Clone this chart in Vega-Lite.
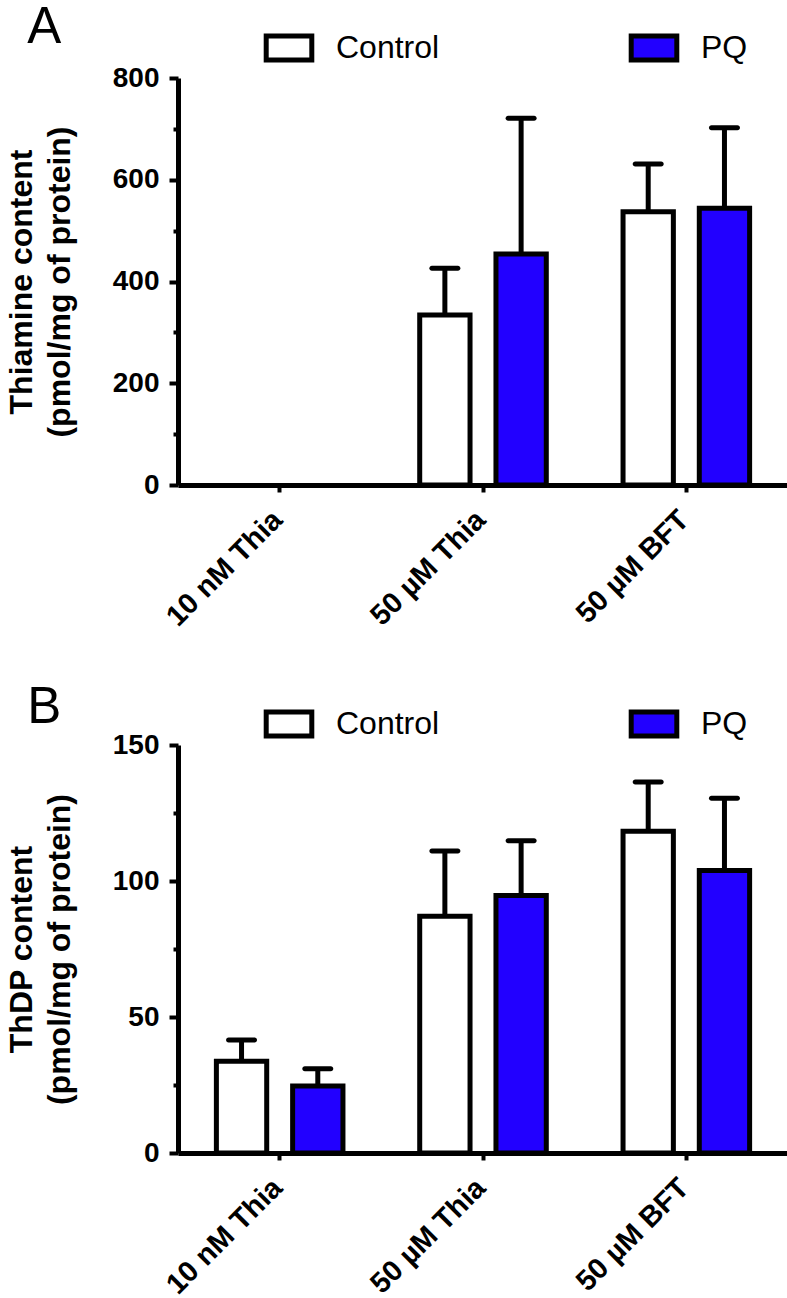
{
  "$schema": "https://vega.github.io/schema/vega-lite/v6.json",
  "padding": {"left": 5, "top": 2, "right": 0, "bottom": 0},
  "background": "white",
  "config": {
    "font": "Liberation Sans",
    "view": {"stroke": null},
    "concat": {"spacing": 50},
    "axis": {
      "domainColor": "black", "domainWidth": 5, "tickColor": "black", "tickWidth": 4,
      "labelColor": "black", "titleColor": "black", "labelFont": "Liberation Sans",
      "titleFont": "Liberation Sans", "labelFontWeight": "bold", "titleFontWeight": "bold", "grid": false
    },
    "legend": {
      "orient": "none", "legendX": 95, "direction": "horizontal",
      "symbolType": "M-1.9,-1H1.9V1H-1.9Z", "symbolSize": 576,
      "symbolStrokeColor": "black", "symbolStrokeWidth": 5, "symbolOpacity": 1,
      "labelFontSize": 32, "labelFont": "Liberation Sans", "labelColor": "black",
      "labelOffset": 31, "columnPadding": 181, "padding": 0
    },
    "title": {"anchor": "start", "frame": "bounds", "fontSize": 51, "fontWeight": "normal", "font": "Liberation Sans", "color": "black", "dx": 22}
  },
  "datasets": {
    "a": [
      {"treatment": "50 µM Thia", "group": "Control", "mean": 334, "upper": 426},
      {"treatment": "50 µM Thia", "group": "PQ", "mean": 454, "upper": 721},
      {"treatment": "50 µM BFT", "group": "Control", "mean": 537, "upper": 631},
      {"treatment": "50 µM BFT", "group": "PQ", "mean": 544, "upper": 702}
    ],
    "b": [
      {"treatment": "10 nM Thia", "group": "Control", "mean": 33.7, "upper": 41.5},
      {"treatment": "10 nM Thia", "group": "PQ", "mean": 24.6, "upper": 31},
      {"treatment": "50 µM Thia", "group": "Control", "mean": 87, "upper": 111},
      {"treatment": "50 µM Thia", "group": "PQ", "mean": 94.7, "upper": 114.8},
      {"treatment": "50 µM BFT", "group": "Control", "mean": 118.3, "upper": 136.4},
      {"treatment": "50 µM BFT", "group": "PQ", "mean": 103.9, "upper": 130.4}
    ]
  },
  "resolve": {"scale": {"fill": "independent", "y": "independent", "x": "independent"}, "legend": {"fill": "independent"}},
  "vconcat": [
    {
      "title": {"text": "A", "offset": -22},
      "width": 610, "height": 407,
      "data": {"name": "a"},
      "encoding": {
        "x": {"field": "treatment", "type": "nominal", "title": null,
          "scale": {"domain": ["10 nM Thia", "50 µM Thia", "50 µM BFT"], "paddingInner": 0.25, "paddingOuter": 0.125},
          "axis": {"labelAngle": -45, "labelFontSize": 29, "tickSize": 7, "labelPadding": 13, "labelOffset": -12}},
        "xOffset": {"field": "group", "type": "nominal",
          "scale": {"domain": ["Control", "PQ"], "paddingInner": 0.34, "paddingOuter": 0.17}}
      },
      "layer": [
        {"mark": {"type": "bar", "stroke": "black", "strokeWidth": 5},
         "encoding": {
           "y": {"field": "mean", "type": "quantitative", "scale": {"domain": [0, 800], "nice": false},
             "axis": {"title": ["Thiamine content", "(pmol/mg of protein)"], "titleFontSize": 32, "titleLineHeight": 38, "titlePadding": 36,
               "values": [0, 100, 200, 300, 400, 500, 600, 700, 800],
               "labelExpr": "datum.value % 200 === 0 ? datum.label : ''",
               "labelFontSize": 28, "labelPadding": 10,
               "tickSize": {"condition": {"test": "datum.value % 200 === 0", "value": 9}, "value": 5}}},
           "fill": {"field": "group", "type": "nominal", "scale": {"domain": ["Control", "PQ"], "range": ["white", "#2200ff"]}, "legend": {"title": null, "legendY": -46}}
         }},
        {"mark": {"type": "rule", "strokeWidth": 5, "color": "black"},
         "encoding": {"y": {"field": "mean", "type": "quantitative"}, "y2": {"field": "upper"}}},
        {"mark": {"type": "tick", "thickness": 5, "size": 31, "color": "black", "cornerRadius": 2.5, "opacity": 1},
         "encoding": {"y": {"field": "upper", "type": "quantitative"}}}
      ]
    },
    {
      "title": {"text": "B", "offset": -26},
      "width": 610, "height": 408,
      "data": {"name": "b"},
      "encoding": {
        "x": {"field": "treatment", "type": "nominal", "title": null,
          "scale": {"domain": ["10 nM Thia", "50 µM Thia", "50 µM BFT"], "paddingInner": 0.25, "paddingOuter": 0.125},
          "axis": {"labelAngle": -45, "labelFontSize": 29, "tickSize": 7, "labelPadding": 13, "labelOffset": -12}},
        "xOffset": {"field": "group", "type": "nominal",
          "scale": {"domain": ["Control", "PQ"], "paddingInner": 0.34, "paddingOuter": 0.17}}
      },
      "layer": [
        {"mark": {"type": "bar", "stroke": "black", "strokeWidth": 5},
         "encoding": {
           "y": {"field": "mean", "type": "quantitative", "scale": {"domain": [0, 150], "nice": false},
             "axis": {"title": ["ThDP content", "(pmol/mg of protein)"], "titleFontSize": 32, "titleLineHeight": 38, "titlePadding": 36,
               "values": [0, 25, 50, 75, 100, 125, 150],
               "labelExpr": "datum.value % 50 === 0 ? datum.label : ''",
               "labelFontSize": 28, "labelPadding": 10,
               "tickSize": {"condition": {"test": "datum.value % 50 === 0", "value": 9}, "value": 5}}},
           "fill": {"field": "group", "type": "nominal", "scale": {"domain": ["Control", "PQ"], "range": ["white", "#2200ff"]}, "legend": {"title": null, "legendY": -37}}
         }},
        {"mark": {"type": "rule", "strokeWidth": 5, "color": "black"},
         "encoding": {"y": {"field": "mean", "type": "quantitative"}, "y2": {"field": "upper"}}},
        {"mark": {"type": "tick", "thickness": 5, "size": 31, "color": "black", "cornerRadius": 2.5, "opacity": 1},
         "encoding": {"y": {"field": "upper", "type": "quantitative"}}}
      ]
    }
  ]
}
